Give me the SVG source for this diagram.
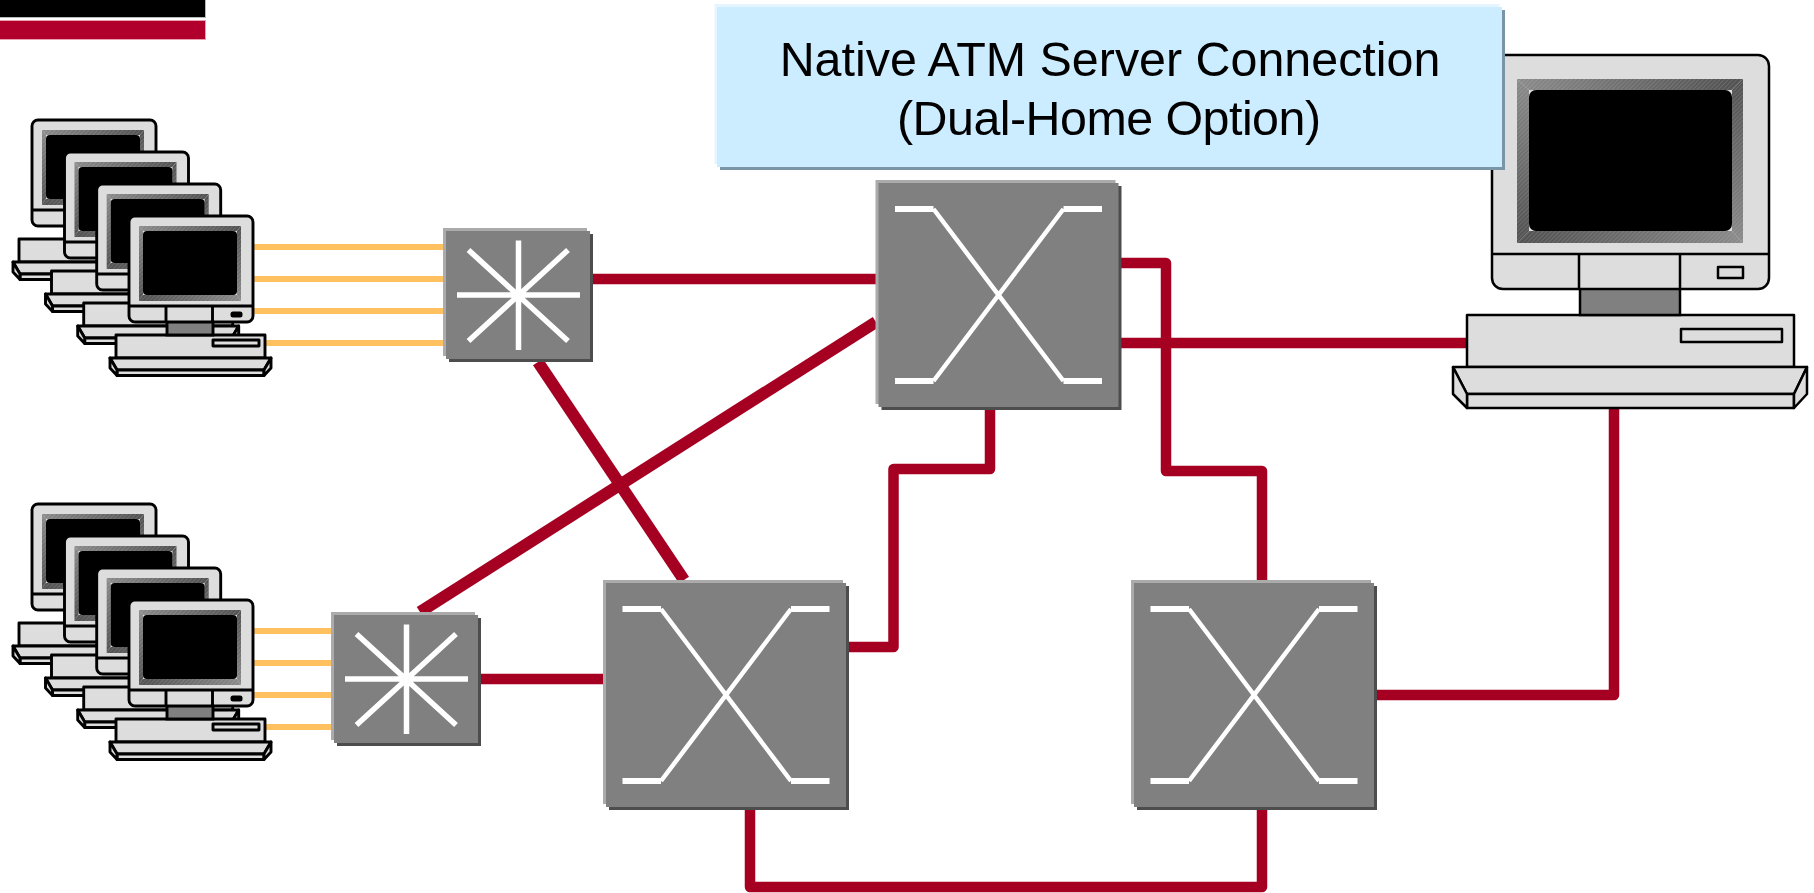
<svg xmlns="http://www.w3.org/2000/svg" width="1814" height="893" viewBox="0 0 1814 893">
<style>
.red{fill:none;stroke:#A50021;stroke-width:10.500;stroke-linejoin:round}
.diag{stroke-width:12}
.yel{fill:none;stroke:#FFC060;stroke-width:6}
.k{fill:#DDDDDD;stroke:#000;stroke-width:2.500;stroke-linejoin:round}
.ln{fill:none;stroke:#000;stroke-width:2.500}
.st{fill:#808080;stroke:#000;stroke-width:2.500}
.small .k,.small .ln,.small .st{stroke-width:2.900}
.scr{fill:#000}
.w{stroke:#fff;fill:none}
.title{font-family:"Liberation Sans",Arial,sans-serif;font-size:48.400px;fill:#000;text-anchor:middle}
</style>
<defs>
<linearGradient id="gh" x1="0" y1="0" x2="1" y2="0"><stop offset="0" stop-color="#8A8A8A"/><stop offset="1" stop-color="#505050"/></linearGradient>
<linearGradient id="ghr" x1="0" y1="0" x2="1" y2="0"><stop offset="0" stop-color="#505050"/><stop offset="1" stop-color="#8A8A8A"/></linearGradient>
<linearGradient id="gv" x1="0" y1="0" x2="0" y2="1"><stop offset="0" stop-color="#8A8A8A"/><stop offset="1" stop-color="#505050"/></linearGradient>
<linearGradient id="gvr" x1="0" y1="0" x2="0" y2="1"><stop offset="0" stop-color="#505050"/><stop offset="1" stop-color="#8A8A8A"/></linearGradient>
<pattern id="hatch" width="3" height="3" patternUnits="userSpaceOnUse" patternTransform="rotate(45)"><rect width="1" height="3" fill="#fff" fill-opacity="0.12"/></pattern>
<g id="pc" class="small">
<rect class="k" x="116" y="335" width="149" height="23"/>
<rect class="k" x="213" y="340" width="46" height="6"/>
<path class="k" d="M110 358H271L264 370H117Z"/>
<path class="k" d="M117 370H264V375.500H117Z"/>
<path class="k" d="M110 358V368L117 375.500V370Z"/>
<path class="k" d="M271 358V368L264 375.500V370Z"/>
<rect class="st" x="167" y="321" width="46" height="14"/>
<rect class="k" x="129" y="216" width="124" height="106" rx="6"/>
<path fill="url(#gh)" d="M139 226H241L237 231H143Z"/>
<path fill="url(#gvr)" d="M241 226V301L237 295V231Z"/>
<path fill="url(#ghr)" d="M139 301H241L237 295H143Z"/>
<path fill="url(#gv)" d="M139 226V301L143 295V231Z"/>
<rect x="139" y="226" width="102" height="75" fill="url(#hatch)"/>
<rect class="scr" x="143" y="231" width="94" height="64" rx="4"/>
<path class="ln" d="M129 306H253M166 306V322M212.500 306V322"/>
<rect x="230.500" y="311.500" width="12" height="6" rx="2.500" fill="#000"/>
</g>
<g id="sw-s">
<rect x="0" y="0" width="144" height="128" fill="#ABABAB"/>
<rect x="6" y="6" width="144" height="128" fill="#4D4D4D"/>
<rect x="3" y="3" width="144" height="128" fill="#808080"/>
<path class="w" stroke-width="5.500" d="M14 67H137M75.500 12.500V122M25.500 22L125 113M125 22L25.500 113"/>
</g>
<g id="sw-l">
<rect x="0" y="0" width="240" height="224" fill="#ABABAB"/>
<rect x="6" y="6" width="240" height="224" fill="#4D4D4D"/>
<rect x="3" y="3" width="240" height="224" fill="#808080"/>
<path class="w" stroke-width="6" d="M19.500 29H58M188 29H226.500M19.500 201H58M188 201H226.500"/>
<path class="w" stroke-width="4.500" d="M58 29L188 201M188 29L58 201"/>
</g>
</defs>
<rect width="1814" height="893" fill="#FFFFFF"/>
<g id="header">
<rect x="0" y="0" width="206" height="18" fill="#B8B8B8"/>
<rect x="0" y="0" width="205" height="17" fill="#000"/>
<rect x="0" y="20" width="206" height="20" fill="#E8A0B0"/>
<rect x="0" y="21" width="205" height="18" fill="#B0002B"/>
</g>
<g id="connectors">
<path class="yel" d="M253 247H443M253 279H443M253 311H443M265 343H443"/>
<path class="yel" d="M253 631H331M253 663H331M253 695H331M265 727H331"/>
<path class="red" d="M593 279H876"/>
<path class="red diag" d="M420 612L876 322"/>
<path class="red diag" d="M538 362L684 580"/>
<path class="red" d="M481 679H603"/>
<path class="red" d="M1121 263H1166V471H1262V580"/>
<path class="red" d="M1121 343H1467"/>
<path class="red" d="M990 409V469H893.500V647H849"/>
<path class="red" d="M750 810V887H1262V810"/>
<path class="red" d="M1377 695H1614V408"/>
</g>
<g id="hosts-top">
<use href="#pc" x="-97" y="-96"/>
<use href="#pc" x="-64.500" y="-64"/>
<use href="#pc" x="-32.300" y="-32"/>
<use href="#pc"/>
</g>
<g id="hosts-bottom">
<use href="#pc" x="-97" y="288"/>
<use href="#pc" x="-64.500" y="320"/>
<use href="#pc" x="-32.300" y="352"/>
<use href="#pc" y="384"/>
</g>
<g id="switch-small-top"><use href="#sw-s" x="443" y="228"/></g>
<g id="switch-small-bottom"><use href="#sw-s" x="331" y="612"/></g>
<g id="switch-large-top"><use href="#sw-l" x="875.500" y="180"/></g>
<g id="switch-large-left"><use href="#sw-l" x="603" y="580"/></g>
<g id="switch-large-right"><use href="#sw-l" x="1131" y="580"/></g>
<g id="server">
<rect class="k" x="1467" y="315" width="327" height="52"/>
<rect class="k" x="1681" y="329" width="101" height="13"/>
<path class="k" d="M1453 367H1807L1794 394H1467Z"/>
<path class="k" d="M1467 394H1794V408H1467Z"/>
<path class="k" d="M1453 367V394L1467 408V394Z"/>
<path class="k" d="M1807 367V394L1794 408V394Z"/>
<rect class="st" x="1580" y="288" width="100" height="27"/>
<rect class="k" x="1492" y="55" width="277" height="234" rx="11"/>
<path fill="url(#gh)" d="M1517 79H1743L1732 90H1529Z"/>
<path fill="url(#gvr)" d="M1743 79V243L1732 231V90Z"/>
<path fill="url(#ghr)" d="M1517 243H1743L1732 231H1529Z"/>
<path fill="url(#gv)" d="M1517 79V243L1529 231V90Z"/>
<rect x="1517" y="79" width="226" height="164" fill="url(#hatch)"/>
<rect class="scr" x="1529" y="90" width="203" height="141" rx="7"/>
<path class="ln" d="M1492 254H1769M1579 254V289M1680 254V289"/>
<rect class="k" x="1718" y="267" width="25" height="11"/>
</g>
<g id="title">
<rect x="714.500" y="4" width="785" height="160" fill="#E4F5FF"/>
<rect x="720" y="10" width="785" height="160" fill="#7A95A5"/>
<rect x="717" y="7" width="785" height="160" fill="#CCECFF"/>
<text class="title" x="1110" y="76">Native ATM Server Connection</text>
<text class="title" x="1109" y="135" textLength="424" lengthAdjust="spacing">(Dual-Home Option)</text>
</g>
</svg>
